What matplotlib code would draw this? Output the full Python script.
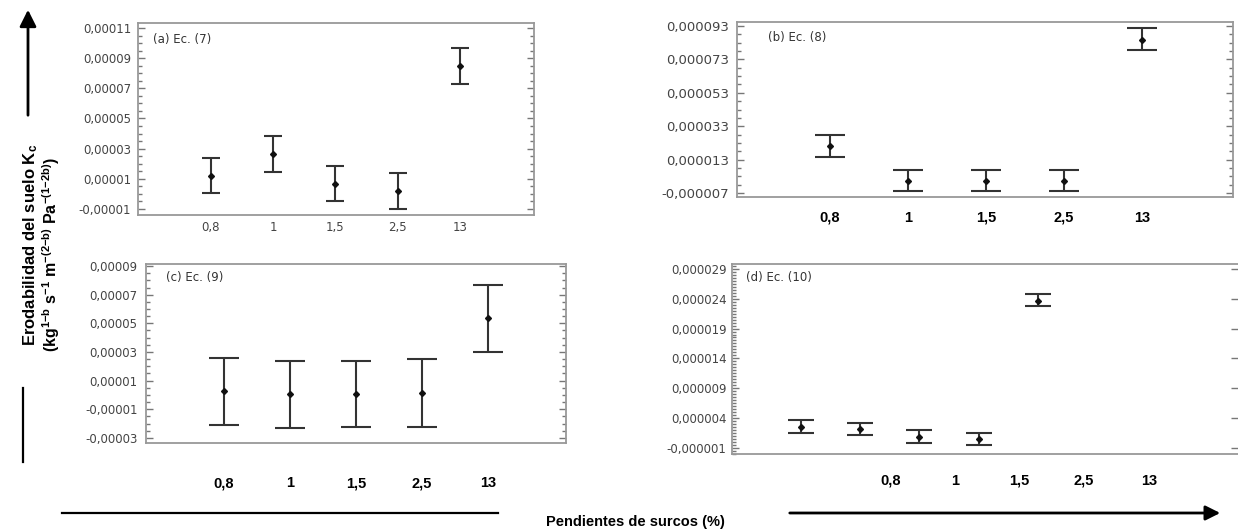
import numpy as np
import matplotlib.pyplot as plt
from matplotlib.ticker import FixedLocator, AutoMinorLocator, FuncFormatter
from matplotlib.lines import Line2D
from matplotlib.patches import FancyArrowPatch

plt.rcParams['font.family'] = ['DejaVu Sans']
plt.rcParams['mathtext.fontset'] = 'custom'
plt.rcParams['mathtext.rm'] = 'Liberation Sans:bold'
plt.rcParams['mathtext.it'] = 'Liberation Sans:bold'
plt.rcParams['mathtext.bf'] = 'Liberation Sans:bold'

pendientes = ['0,8', '1', '1,5', '2,5', '13']

# (a) Ec. (7)
kc_a = [0.000012, 0.0000267, 0.0000067, 0.000002, 0.0000847]
lo_a = [0.0000007, 0.0000147, -0.0000047, -0.00001, 0.0000727]
hi_a = [0.000024, 0.0000387, 0.0000187, 0.000014, 0.0000967]
yt_a = [-0.00001, 0.00001, 0.00003, 0.00005, 0.00007, 0.00009, 0.00011]

# (b) Ec. (8)
kc_b = [0.0000214, 0.0000004, 0.0000004, 0.0000004, 0.0000844]
lo_b = [0.0000148, -0.0000058, -0.0000058, -0.0000058, 0.0000784]
hi_b = [0.000028, 0.000007, 0.000007, 0.000007, 0.0000916]
yt_b = [-0.000007, 0.000013, 0.000033, 0.000053, 0.000073, 0.000093]

# (c) Ec. (9)
kc_c = [0.0000025, 0.0000004, 0.0000004, 0.0000014, 0.0000535]
lo_c = [-0.000021, -0.0000229, -0.0000225, -0.000022, 0.0000303]
hi_c = [0.0000256, 0.0000235, 0.0000235, 0.0000248, 0.0000768]
yt_c = [-0.00003, -0.00001, 0.00001, 0.00003, 0.00005, 0.00007, 0.00009]

# (d) Ec. (10)
kc_d = [0.00000257, 0.00000219, 0.0000009, 0.00000046, 0.00002366]
lo_d = [0.00000157, 0.00000113, -0.00000016, -0.0000005, 0.0000227]
hi_d = [0.0000037, 0.00000319, 0.00000197, 0.00000157, 0.00002484]
yt_d = [-0.000001, 0.000004, 0.000009, 0.000014, 0.000019, 0.000024, 0.000029]

W, H = 1238, 529
fig = plt.figure(figsize=(W / 100, H / 100), dpi=100)


def box(l, t, r, b):
    return [l / W, 1 - b / H, (r - l) / W, (b - t) / H]


def fx(x, y):
    return (x / W, 1 - y / H)


def panel(rect, kc, lo, hi, yt, ylim, xlim, dec, nminor, cap, ysize, ypad):
    ax = fig.add_axes(box(*rect))
    x = np.arange(len(kc))
    kc = np.array(kc)
    yerr = [kc - np.array(lo), np.array(hi) - kc]
    ax.errorbar(x, kc, yerr=yerr, fmt='D', ms=3, color='#111', ecolor='#333',
                elinewidth=1.5, capsize=cap, capthick=1.5)
    ax.set_xlim(*xlim)
    ax.set_ylim(*ylim)
    ax.yaxis.set_major_locator(FixedLocator(yt))
    ax.yaxis.set_minor_locator(AutoMinorLocator(nminor))
    ax.yaxis.set_major_formatter(FuncFormatter(lambda v, p: f'{v:.{dec}f}'.replace('.', ',')))
    ax.tick_params(axis='y', which='both', direction='in', left=True, right=True,
                   color='#777', width=1)
    ax.tick_params(axis='y', which='major', length=5, labelsize=ysize,
                   labelcolor='#444', pad=ypad)
    ax.tick_params(axis='y', which='minor', length=3)
    for s in ax.spines.values():
        s.set_color('#999')
        s.set_linewidth(1.3)
    ax.set_xticks(x)
    ax.tick_params(axis='x', length=0)
    return ax


# (a)
ax_a = panel((138, 23, 534, 215), kc_a, lo_a, hi_a, yt_a, (-0.000014, 0.0001133),
             (-1.17, 5.19), 5, 4, 6.5, 8.5, 5)
ax_a.set_xticklabels(pendientes)
ax_a.tick_params(axis='x', labelsize=8.5, labelcolor='#444', pad=4)

# (b)
ax_b = panel((737, 22, 1233, 197), kc_b, lo_b, hi_b, yt_b, (-0.0000094, 0.0000954),
             (-1.19, 5.17), 6, 4, 11, 9.5, 6)
ax_b.set_xticklabels(pendientes, family='Liberation Sans', fontweight='bold')
ax_b.tick_params(axis='x', labelsize=10.5, labelcolor='black', pad=10)

# (c)
ax_c = panel((146, 264, 566, 443), kc_c, lo_c, hi_c, yt_c, (-0.0000335, 0.0000914),
             (-1.18, 5.18), 5, 4, 11, 8.5, 6)
ax_c.set_xticklabels(pendientes, family='Liberation Sans', fontweight='bold')
ax_c.tick_params(axis='x', labelsize=10.5, labelcolor='black', pad=24)

# (d)
ax_d = panel((732, 264, 1238, 454), kc_d, lo_d, hi_d, yt_d, (-0.000002, 0.0000298),
             (-1.16, 7.37), 6, 10, 9.5, 8.5, 4)
ax_d.set_xticklabels([])
ax_d.spines['right'].set_visible(False)
ax_d.tick_params(axis='y', which='minor', right=False)

# category labels under (d), set apart from the points as in the original
ax_dl = fig.add_axes(box(858, 470, 1181, 471))
ax_dl.set_xlim(-0.5, 4.5)
ax_dl.set_xticks(np.arange(len(pendientes)))
ax_dl.set_xticklabels(pendientes, family='Liberation Sans', fontweight='bold')
ax_dl.tick_params(axis='x', length=0, labelsize=10.5, pad=2)
ax_dl.set_yticks([])
for s in ax_dl.spines.values():
    s.set_visible(False)
ax_dl.patch.set_alpha(0)

# panel titles
for (px, py), t in zip([(153, 39), (768, 37), (166, 278), (746, 278)],
                       ['(a) Ec. (7)', '(b) Ec. (8)', '(c) Ec. (9)', '(d) Ec. (10)']):
    fig.text(*fx(px, py), t, fontsize=8.5, color='#333', va='center', ha='left')

# y label
fig.text(*fx(31, 245), r'Erodabilidad del suelo K$_{c}$', rotation=90,
         family='Liberation Sans', fontweight='bold', fontsize=12,
         ha='center', va='center')
fig.text(*fx(51, 255),
         r'(kg$^{1{-}b}$ s$^{-1}$ m$^{-(2{-}b)}$ Pa$^{-(1{-}2b)}$)', rotation=90,
         family='Liberation Sans', fontweight='bold', fontsize=11.5,
         ha='center', va='center')

# x label
fig.text(*fx(635, 522), 'Pendientes de surcos (%)', family='Liberation Sans',
         fontweight='bold', fontsize=10.5, ha='center', va='center')

# decorative axis lines and arrows
fig.add_artist(FancyArrowPatch(fx(28, 118), fx(28, 7), transform=fig.transFigure,
                               arrowstyle='-|>', mutation_scale=25, lw=2, color='black'))
fig.add_artist(Line2D(*zip(fx(23, 388), fx(23, 462)), transform=fig.transFigure,
                      lw=1.6, color='black'))
fig.add_artist(Line2D(*zip(fx(62, 513), fx(498, 513)), transform=fig.transFigure,
                      lw=1.6, color='black'))
fig.add_artist(FancyArrowPatch(fx(787, 513), fx(1223, 513), transform=fig.transFigure,
                               arrowstyle='-|>', mutation_scale=22, lw=2, color='black'))

fig.savefig('out.png', dpi=100)
